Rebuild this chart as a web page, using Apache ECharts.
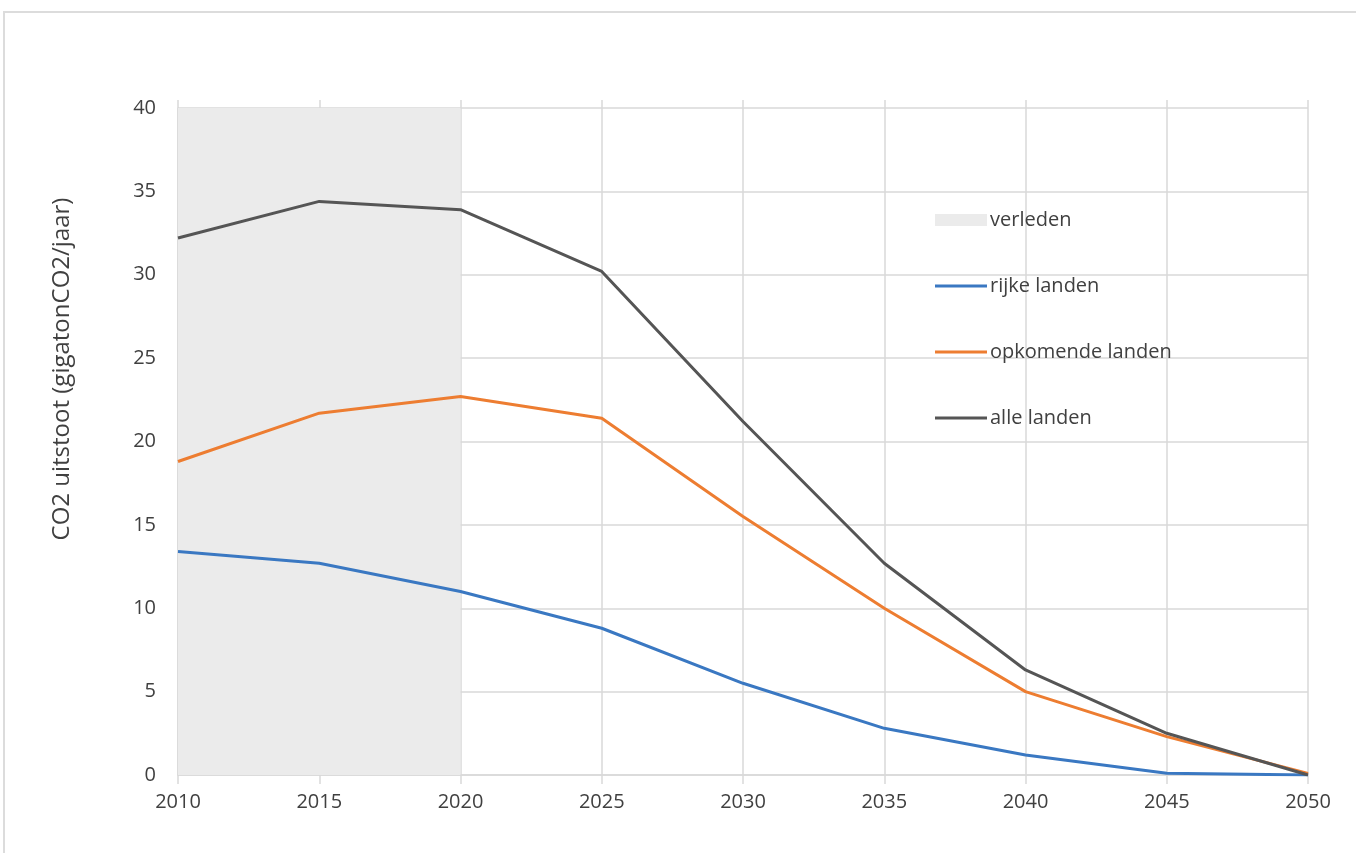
<!DOCTYPE html>
<html>
<head>
<meta charset="utf-8">
<script src="https://cdn.jsdelivr.net/npm/echarts@6/dist/echarts.min.js"></script>
<style>
html,body{margin:0;padding:0;background:#fff;}
#c{width:1356px;height:853px;}
</style>
</head>
<body>
<div id="c"></div>
<script>
const years = [2010, 2015, 2020, 2025, 2030, 2035, 2040, 2045, 2050];
const rijkeLanden = [13.4, 12.7, 11.0, 8.8, 5.5, 2.8, 1.2, 0.1, 0.0];
const opkomendeLanden = [18.8, 21.7, 22.7, 21.4, 15.5, 10.0, 5.0, 2.3, 0.1];
const alleLanden = [32.2, 34.4, 33.9, 30.2, 21.2, 12.7, 6.3, 2.5, 0.0];
const verledenRange = [2010, 2020];
const seriesNames = ['verleden', 'rijke landen', 'opkomende landen', 'alle landen'];
const yAxisTitle = 'CO2 uitstoot (gigatonCO2/jaar)';

const font = '"Open Sans", "Noto Sans", sans-serif';
const gridColor = '#d9d9d9';
const textColor = '#404040';

const toPairs = arr => years.map((y, i) => [y, arr[i]]);
const lineIcon = 'path://M0,0 L52,0 L52,3 L0,3 Z';
const rectIcon = 'path://M0,0 L52,0 L52,12 L0,12 Z';

const chart = echarts.init(document.getElementById('c'));
chart.setOption({
  animation: false,
  backgroundColor: '#fff',
  textStyle: { fontFamily: font },
  grid: { left: 178, right: 48, top: 108, bottom: 78, containLabel: false },
  graphic: [
    { type: 'rect', shape: { x: 4, y: 12, width: 1400, height: 900 },
      style: { fill: 'none', stroke: '#dcdcdc', lineWidth: 2 }, silent: true, z: -10 },
    { type: 'text', x: 62, y: 369, rotation: Math.PI / 2,
      style: { text: yAxisTitle, fontSize: 24, fontFamily: font, fill: textColor,
               align: 'center', verticalAlign: 'middle' } }
  ],
  legend: {
    orient: 'vertical', left: 930, top: 205, itemGap: 46,
    itemWidth: 52, itemHeight: 16, symbolKeepAspect: true,
    textStyle: { fontSize: 20, color: textColor, fontFamily: font, padding: [0, 0, 0, -2] },
    data: [
      { name: seriesNames[0], icon: rectIcon, itemStyle: { color: '#ebebeb' } },
      { name: seriesNames[1], icon: lineIcon, itemStyle: { color: '#3a78c2' } },
      { name: seriesNames[2], icon: lineIcon, itemStyle: { color: '#ed7d31' } },
      { name: seriesNames[3], icon: lineIcon, itemStyle: { color: '#555555' } }
    ]
  },
  xAxis: [
    {
      type: 'value', min: 2010, max: 2050, interval: 5, position: 'bottom',
      axisLine: { show: true, lineStyle: { color: gridColor, width: 1.5 } },
      axisTick: { show: true, length: 9, lineStyle: { color: gridColor, width: 1.5 } },
      axisLabel: { fontSize: 20, color: textColor, margin: 17, fontFamily: font,
                   formatter: v => String(v) },
      splitLine: { show: true, lineStyle: { color: gridColor, width: 1.5 } }
    },
    {
      type: 'value', min: 2010, max: 2050, interval: 5, position: 'top',
      axisLine: { show: false },
      axisTick: { show: true, length: 8, lineStyle: { color: gridColor, width: 1.5 } },
      axisLabel: { show: false },
      splitLine: { show: false }
    }
  ],
  yAxis: {
    type: 'value', min: 0, max: 40, interval: 5,
    axisLine: { show: true, lineStyle: { color: gridColor, width: 1.5 } },
    axisTick: { show: false },
    axisLabel: { fontSize: 20, color: textColor, margin: 22, fontFamily: font },
    splitLine: { show: true, lineStyle: { color: gridColor, width: 1.5 } }
  },
  series: [
    {
      name: seriesNames[0], type: 'line', data: [], symbol: 'none',
      itemStyle: { color: '#ebebeb' }, lineStyle: { color: '#ebebeb' },
      markArea: {
        silent: true,
        itemStyle: { color: '#ebebeb', opacity: 1 },
        data: [[{ xAxis: verledenRange[0], yAxis: 0 }, { xAxis: verledenRange[1], yAxis: 40 }]]
      }
    },
    {
      name: seriesNames[1], type: 'line', data: toPairs(rijkeLanden), symbol: 'none',
      lineStyle: { color: '#3a78c2', width: 3 }, itemStyle: { color: '#3a78c2' }, z: 5
    },
    {
      name: seriesNames[2], type: 'line', data: toPairs(opkomendeLanden), symbol: 'none',
      lineStyle: { color: '#ed7d31', width: 3 }, itemStyle: { color: '#ed7d31' }, z: 5
    },
    {
      name: seriesNames[3], type: 'line', data: toPairs(alleLanden), symbol: 'none',
      lineStyle: { color: '#555555', width: 3 }, itemStyle: { color: '#555555' }, z: 6
    }
  ]
});
</script>
</body>
</html>
